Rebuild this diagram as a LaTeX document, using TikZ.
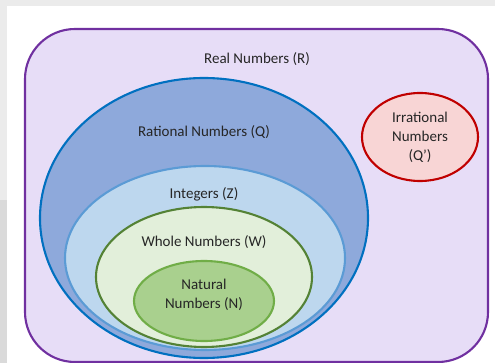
\documentclass[tikz,border=0pt]{standalone}
\usepackage{fontspec}
\setmainfont{Carlito}
\begin{document}
\begin{tikzpicture}[x=1pt,y=-1pt,
  lbl/.style={font=\fontsize{15}{19}\selectfont, text=black!85, align=center, inner sep=0pt},
  setbox/.style={line width=2.1pt}]
\definecolor{bggray}{HTML}{DDDDDD}
\definecolor{rstroke}{HTML}{7030A0}
\definecolor{rfill}{HTML}{E7DDF7}
\definecolor{qstroke}{HTML}{0070C0}
\definecolor{qfill}{HTML}{8EA9DB}
\definecolor{zstroke}{HTML}{5B9BD5}
\definecolor{zfill}{HTML}{BDD7EE}
\definecolor{wstroke}{HTML}{548235}
\definecolor{wfill}{HTML}{E2EFDA}
\definecolor{nstroke}{HTML}{70AD47}
\definecolor{nfill}{HTML}{A9D08E}
\definecolor{istroke}{HTML}{C00000}
\definecolor{ifill}{HTML}{F8D5D5}
\useasboundingbox (0,0) rectangle (495,363);
\fill[bggray!60] (0,0) rectangle (495,363);
\fill[bggray!110] (0,200) rectangle (7,363);
\fill[white] (7,6) rectangle (495,363);
% Real numbers
\draw[setbox, draw=rstroke, fill=rfill, rounded corners=50pt] (25,29) rectangle (488,362);
% Rational
\draw[setbox, draw=qstroke, fill=qfill] (204,218) ellipse [x radius=164, y radius=140];
% Integers
\draw[setbox, draw=zstroke, fill=zfill] (205,258) ellipse [x radius=140, y radius=92];
% Whole
\draw[setbox, draw=wstroke, fill=wfill] (204,277) ellipse [x radius=108, y radius=70];
% Natural
\draw[setbox, draw=nstroke, fill=nfill] (204,301) ellipse [x radius=70, y radius=40];
% Irrational
\draw[setbox, draw=istroke, fill=ifill] (420,137) ellipse [x radius=58, y radius=44];
\node[lbl] (r) at (257,59) {Real Numbers (R)};
\node[lbl] (q) at (204,132) {Rational Numbers (Q)};
\node[lbl] (z) at (204,194) {Integers (Z)};
\node[lbl] (w) at (204,242) {Whole Numbers (W)};
\node[lbl] (n) at (204,295) {Natural\\Numbers (N)};
\node[lbl] (i) at (420,137) {Irrational\\Numbers\\(Q')};
\end{tikzpicture}
\end{document}
